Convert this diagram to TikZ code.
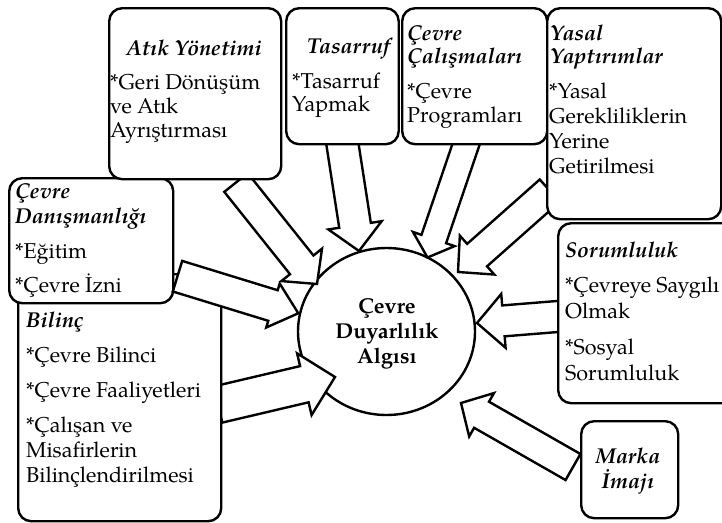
\documentclass[tikz,border=0pt]{standalone}
\usepackage{fontspec}
\setmainfont{TeX Gyre Pagella}
\usetikzlibrary{calc,shapes.geometric}
\newcommand\blockarr[5]{%
  \path ($(#2)!#5!(#1)$) coordinate (#1h);
  \draw[arrowbody] ($(#1)!#3!90:(#2)$) -- ($(#1h)!#3!-90:(#1)$) -- ($(#1h)!#4!-90:(#1)$) -- (#2)
     -- ($(#1h)!#4!90:(#1)$) -- ($(#1h)!#3!90:(#1)$) -- ($(#1)!#3!-90:(#2)$) -- cycle;
}
\begin{document}
\begin{tikzpicture}[x=1pt,y=-1pt,
  box/.style={draw,line width=2.4pt,rounded corners=13pt,fill=white,inner sep=0pt,anchor=north west},
  arrowbody/.style={draw,line width=2.4pt,fill=white,line join=miter},
  txt/.style={inner sep=0pt,font=\fontsize{21.5}{24.5}\selectfont,anchor=base west},
  ttl/.style={txt,font=\fontsize{21.5}{24.5}\selectfont\bfseries\itshape},
  ctr/.style={inner sep=0pt,font=\fontsize{21.5}{24.5}\selectfont\bfseries,anchor=base}]
\useasboundingbox (0,0) rectangle (722,522);
\begin{scope}
\clip (0,0) rectangle (722,522);
% central ellipse
\node[draw,ellipse,line width=2.4pt,fill=white,minimum width=177pt,minimum height=167pt,inner sep=0pt] (c) at (386.5,331.5) {};
% arrow end points
\coordinate (t1) at (236,182.5);   \coordinate (p1) at (317,284);
\coordinate (t2) at (341.8,140);   \coordinate (p2) at (359,251);
\coordinate (t3) at (467.5,140);   \coordinate (p3) at (427.5,257.5);
\coordinate (t4) at (549.7,190.7); \coordinate (p4) at (458,272);
\coordinate (t5) at (560,316.3);   \coordinate (p5) at (477,323);
\coordinate (t6) at (573,467);     \coordinate (p6) at (461,403);
\coordinate (t7) at (218,404.5);   \coordinate (p7) at (335,377);
\coordinate (t8) at (177.5,276.2); \coordinate (p8) at (298.3,313.3);
% arrows under the boxes
\blockarr{t1}{p1}{15pt}{26pt}{24.5pt}
\blockarr{t2}{p2}{16pt}{27pt}{26pt}
\blockarr{t3}{p3}{13pt}{22pt}{19.5pt}
\blockarr{t4}{p4}{15pt}{26pt}{25.5pt}
\blockarr{t5}{p5}{15.5pt}{27pt}{26.5pt}
\blockarr{t6}{p6}{15pt}{25pt}{23.7pt}
\blockarr{t7}{p7}{18.6pt}{31.7pt}{31.5pt}
% boxes
\node[box,minimum width=203pt,minimum height=247pt] (bil) at (17,273) {};
\node[box,minimum width=164pt,minimum height=125pt] (dan) at (8,177) {};
\node[box,minimum width=172pt,minimum height=171pt] (atik) at (108,7) {};
\node[box,minimum width=112.5pt,minimum height=136pt] (tas) at (285,7) {};
\node[box,minimum width=145pt,minimum height=136pt] (cal) at (401,7) {};
\node[box,minimum width=174pt,minimum height=211pt] (yas) at (546,7) {};
\node[box,minimum width=180pt,minimum height=180pt] (sor) at (557,222) {};
\node[box,minimum width=97pt,minimum height=97pt] (mar) at (580,420) {};
% arrow over the boxes
\blockarr{t8}{p8}{16pt}{23pt}{26.5pt}
% texts
\node[ctr] (c1) at (387,313) {Çevre};
\node[ctr] (c2) at (387,338) {Duyarlılık};
\node[ctr] (c3) at (387,363) {Algısı};
\node[ttl,anchor=base] (atikT) at (194,55) {Atık Yönetimi};
\node[txt] (atik1) at (110,89) {*Geri Dönüşüm};
\node[txt] (atik2) at (110,113) {ve Atık};
\node[txt] (atik3) at (110,137) {Ayrıştırması};
\node[ttl] (tasT) at (307,53) {Tasarruf};
\node[txt] (tas1) at (292,88) {*Tasarruf};
\node[txt] (tas2) at (292,111) {Yapmak};
\node[ttl] (calT1) at (407,40) {Çevre};
\node[ttl] (calT2) at (407,63) {Çalışmaları};
\node[txt] (cal1) at (407,98) {*Çevre};
\node[txt] (cal2) at (407,122) {Programları};
\node[ttl] (yasT1) at (550,40) {Yasal};
\node[ttl] (yasT2) at (550,63) {Yaptırımlar};
\node[txt] (yas1) at (549,98) {*Yasal};
\node[txt] (yas2) at (549,123) {Gerekliliklerin};
\node[txt] (yas3) at (549,148) {Yerine};
\node[txt] (yas4) at (549,173) {Getirilmesi};
\node[ttl] (sorT) at (565,257) {Sorumluluk};
\node[txt] (sor1) at (565,292) {*Çevreye Saygılı};
\node[txt] (sor2) at (565,318) {Olmak};
\node[txt] (sor3) at (565,354) {*Sosyal};
\node[txt] (sor4) at (565,380) {Sorumluluk};
\node[ttl,anchor=base] (marT1) at (628,463) {Marka};
\node[ttl,anchor=base] (marT2) at (628,488) {İmajı};
\node[ttl] (danT1) at (15,198) {Çevre};
\node[ttl] (danT2) at (15,223) {Danışmanlığı};
\node[txt] (dan1) at (15,258) {*Eğitim};
\node[txt] (dan2) at (15,292) {*Çevre İzni};
\node[ttl] (bilT) at (26,327) {Bilinç};
\node[txt] (bil1) at (26,362) {*Çevre Bilinci};
\node[txt] (bil2) at (26,397) {*Çevre Faaliyetleri};
\node[txt] (bil3) at (26,432) {*Çalışan ve};
\node[txt] (bil4) at (26,457) {Misafirlerin};
\node[txt] (bil5) at (26,482) {Bilinçlendirilmesi};
\end{scope}
\end{tikzpicture}
\end{document}
